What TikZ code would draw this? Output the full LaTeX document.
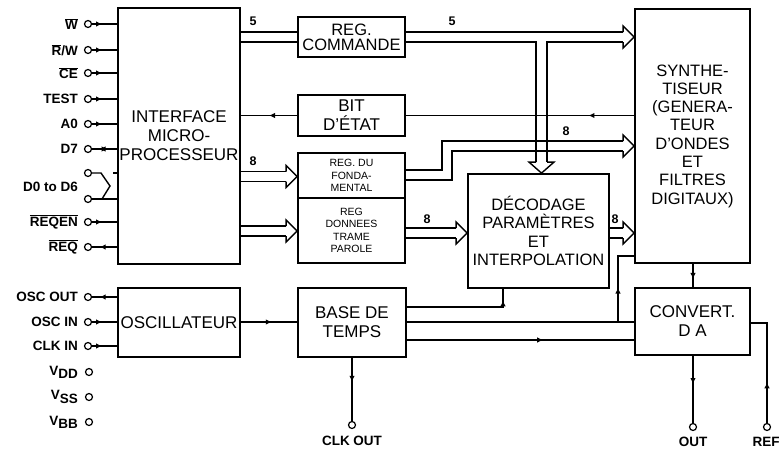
\documentclass[tikz,border=0pt]{standalone}
\usepackage{fontspec}
\setmainfont{Liberation Sans}
\usetikzlibrary{arrows.meta,decorations.markings,calc}
\tikzset{
  box/.style={draw, line width=1.8pt, inner sep=0pt, align=center, font=\fontsize{17}{19}\selectfont},
  wire/.style={line width=1.4pt, line join=miter},
  pin/.style={circle, draw, line width=1.2pt, minimum size=7pt, inner sep=0pt, fill=white},
  pinlbl/.style={font=\bfseries\fontsize{13.5}{14}\selectfont, anchor=east, inner sep=0pt},
  num/.style={font=\bfseries\fontsize{12.5}{13}\selectfont, inner sep=0pt},
  arrowat/.style={decoration={markings, mark=at position #1 with {\arrow{Latex[length=6pt,width=5.5pt]}}}, postaction=decorate},
  revat/.style={decoration={markings, mark=at position #1 with {\arrowreversed{Latex[length=6pt,width=5.5pt]}}}, postaction=decorate},
  bidir/.style={decoration={markings, mark=at position 0.3 with {\arrowreversed{Latex[length=6pt,width=5.5pt]}}, mark=at position 0.62 with {\arrow{Latex[length=6pt,width=5.5pt]}}}, postaction=decorate},
}
\newcommand\busR[1]{\draw[wire] ($(#1)+(-11,-5)$) -- ($(#1)+(-11,-11)$) -- (#1) -- ($(#1)+(-11,11)$) -- ($(#1)+(-11,5)$);}
\newcommand\busD[1]{\draw[wire] ($(#1)+(-5.5,-11)$) -- ($(#1)+(-12.5,-11)$) -- (#1) -- ($(#1)+(12.5,-11)$) -- ($(#1)+(5.5,-11)$);}
\newcommand\ovl[1]{$\overline{\mbox{#1}}$}
\newcommand\pinL[5]{%
  \node[pin] (#1) at (88,#2) {};
  \node[pinlbl] at (78,#2) {#3};
  \draw[wire,#5] (#1) -- (#4.west |- #1);}
\begin{document}
\begin{tikzpicture}[x=1pt,y=-1pt]
\useasboundingbox[fill=white] (0,0) rectangle (780,450);

% blocks
\node[box, minimum width=122, minimum height=256] (iface) at (179,136) {INTERFACE\\MICRO-\\PROCESSEUR};
\node[box, minimum width=122, minimum height=69] (osc) at (179,322.5) {OSCILLATEUR};
\node[box, minimum width=107, minimum height=40, font=\fontsize{16.5}{15}\selectfont] (regcmd) at (351.5,37) {REG.\\COMMANDE};
\node[box, minimum width=107, minimum height=41] (bit) at (351.5,115.5) {BIT\\D'ÉTAT};
\node[box, minimum width=107, minimum height=45, font=\fontsize{10.5}{12.5}\selectfont] (regf) at (351.5,175.5) {REG. DU\\FONDA-\\MENTAL};
\node[box, minimum width=107, minimum height=65, font=\fontsize{10.5}{12.3}\selectfont] (regd) at (351.5,230.5) {REG\\DONNEES\\TRAME\\PAROLE};
\node[box, minimum width=108, minimum height=69] (base) at (352,322.5) {BASE DE\\TEMPS};
\node[box, minimum width=141, minimum height=114, font=\fontsize{16.5}{18.3}\selectfont] (dec) at (538.5,231) {DÉCODAGE\\PARAMÈTRES\\ET\\INTERPOLATION};
\node[box, minimum width=115, minimum height=254, font=\fontsize{16.5}{18.3}\selectfont] (synth) at (692.5,136) {SYNTHE-\\TISEUR\\(GENERA-\\TEUR\\D'ONDES\\ET\\FILTRES\\DIGITAUX)};
\node[box, minimum width=115, minimum height=67] (conv) at (692.5,321.5) {CONVERT.\\D A};

% left pins
\pinL{pw}{24}{\ovl{W}}{iface}{arrowat=0.4}
\pinL{prw}{50}{\ovl{R}/W}{iface}{arrowat=0.4}
\pinL{pce}{73}{\ovl{CE}}{iface}{arrowat=0.4}
\pinL{ptest}{99}{TEST}{iface}{arrowat=0.4}
\pinL{pa0}{124}{A0}{iface}{arrowat=0.4}
\pinL{pd7}{149}{D7}{iface}{bidir}
\pinL{preqen}{222}{\ovl{REQEN}}{iface}{arrowat=0.4}
\pinL{preq}{247}{\ovl{REQ}}{iface}{revat=0.3}
% D0 to D6
\node[pin] (pd0a) at (88,173) {};
\node[pin] (pd0b) at (88,199) {};
\node[pinlbl] at (78,187) {D0 to D6};
\draw[wire] (pd0a) -- (101,173) -- (110,186) -- (102,199);
\draw[wire] (pd0b) -- (iface.west |- pd0b);
\draw[wire] (113,173) -- (iface.west |- pd0a);
% oscillator pins
\pinL{posco}{297}{OSC OUT}{osc}{revat=0.3}
\pinL{posci}{322}{OSC IN}{osc}{arrowat=0.4}
\pinL{pclki}{346}{CLK IN}{osc}{arrowat=0.4}
% supply pins
\node[pin] (vdd) at (89,372) {};
\node[pin] (vss) at (89,397) {};
\node[pin] (vbb) at (89,422) {};
\node[pinlbl] at (78,372) {V\raisebox{-0.45ex}{DD}};
\node[pinlbl] at (78,397) {V\raisebox{-0.45ex}{SS}};
\node[pinlbl] at (78,422) {V\raisebox{-0.45ex}{BB}};

% interface -> REG COMMANDE (5)
\draw[wire] (iface.east |- 0,32) -- (regcmd.west |- 0,32);
\draw[wire] (iface.east |- 0,42) -- (regcmd.west |- 0,42);
\node[num] at (253,21) {5};
% REG COMMANDE -> synth and -> decodage
\coordinate (t1) at (synth.west |- 0,37);
\coordinate (t2) at (dec.north -| 541.5,0);
\draw[wire] (regcmd.east |- 0,32) -- ($(t1)+(-11,-5)$);
\draw[wire] (regcmd.east |- 0,42) -- (536,42) -- ($(t2)+(-5.5,-11)$);
\draw[wire] ($(t1)+(-11,5)$) -- (547,42) -- ($(t2)+(5.5,-11)$);
\busR{t1}
\busD{t2}
\node[num] at (452,21) {5};

% BIT D'ETAT
\draw[wire, arrowat=0.2] (synth.west |- bit) -- (bit.east);
\draw[wire, arrowat=0.5] (bit.west) -- (iface.east |- bit);

% interface -> REG DU FONDAMENTAL (8)
\coordinate (t3) at (regf.west |- 0,176.5);
\draw[wire] (iface.east |- 0,171.5) -- ($(t3)+(-11,-5)$);
\draw[wire] (iface.east |- 0,181.5) -- ($(t3)+(-11,5)$);
\busR{t3}
\node[num] at (253,161) {8};
% REG DU FONDAMENTAL -> synth (8)
\coordinate (t4) at (synth.west |- 0,146);
\draw[wire] (regf.east |- 0,170) -- (442,170) -- (442,141) -- ($(t4)+(-11,-5)$);
\draw[wire] (regf.east |- 0,180) -- (452,180) -- (452,151) -- ($(t4)+(-11,5)$);
\busR{t4}
\node[num] at (566,131) {8};

% interface -> REG DONNEES
\coordinate (t5) at (regd.west |- 0,231);
\draw[wire] (iface.east |- 0,226) -- ($(t5)+(-11,-5)$);
\draw[wire] (iface.east |- 0,236) -- ($(t5)+(-11,5)$);
\busR{t5}
% REG DONNEES -> decodage (8)
\coordinate (t6) at (dec.west |- 0,233);
\draw[wire] (regd.east |- 0,228) -- ($(t6)+(-11,-5)$);
\draw[wire] (regd.east |- 0,238) -- ($(t6)+(-11,5)$);
\busR{t6}
\node[num] at (427,219) {8};
% decodage -> synth (8)
\coordinate (t7) at (synth.west |- 0,233);
\draw[wire] (dec.east |- 0,228) -- ($(t7)+(-11,-5)$);
\draw[wire] (dec.east |- 0,238) -- ($(t7)+(-11,5)$);
\busR{t7}
\node[num] at (615,219) {8};

% oscillator -> base de temps
\draw[wire, arrowat=0.55] (osc.east |- 0,322) -- (base.west |- 0,322);
% base de temps outputs
\draw[wire, arrowat=0.9] (base.east |- 0,307) -- (503,307) -- (dec.south -| 503,0);
\draw[wire] (base.east |- 0,322) -- (conv.west |- 0,322);
\draw[wire, arrowat=0.42] (618,322) -- (618,256) -- (synth.west |- 0,256);
\draw[wire, arrowat=0.6] (base.east |- 0,340) -- (conv.west |- 0,340);
% CLK OUT
\node[pin] (clkout) at (352,425) {};
\draw[wire, arrowat=0.38] (base.south) -- (clkout);
\node[num, font=\bfseries\fontsize{13.5}{14}\selectfont] at (352,441) {CLK OUT};

% synth -> convert
\draw[wire, arrowat=0.65] (synth.south -| 693,0) -- (conv.north -| 693,0);
% OUT
\node[pin] (out) at (693,427) {};
\draw[wire, arrowat=0.42] (conv.south -| 693,0) -- (out);
\node[num, font=\bfseries\fontsize{13.5}{14}\selectfont] at (693,442) {OUT};
% REF
\node[pin] (ref) at (767,427) {};
\draw[wire, arrowat=0.35] (ref) -- (767,323) -- (conv.east |- 0,323);
\node[num, font=\bfseries\fontsize{13.5}{14}\selectfont] at (766,442) {REF};
\end{tikzpicture}
\end{document}
